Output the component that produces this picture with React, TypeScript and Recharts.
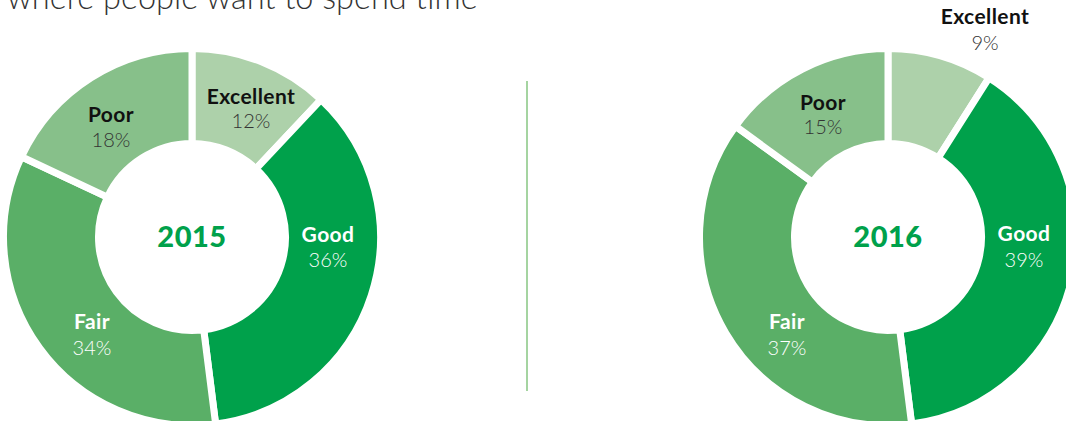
import React from "react";
import { PieChart, Pie, Cell } from "recharts";

const categories = ["Excellent", "Good", "Fair", "Poor"];
const values2015 = [12, 36, 34, 18];
const values2016 = [9, 39, 37, 15];
const years = ["2015", "2016"];
const title = "where people want to spend time";

const COLORS = ["#add1aa", "#00a14b", "#5aaf67", "#87c08a"];
const NAME_FILL = ["#111111", "#ffffff", "#ffffff", "#111111"];
const PCT_FILL = ["#333333", "#ffffff", "#ffffff", "#333333"];
const FONT = "Lato, 'Open Sans', sans-serif";

// label placement offsets relative to each donut's centre (style config)
const LABEL_OFFSETS = [
  [
    { dx: 59, ny: -133, py: -109 },
    { dx: 136, ny: 5, py: 30 },
    { dx: -100, ny: 92, py: 118 },
    { dx: -81, ny: -115, py: -90 },
  ],
  [
    { dx: 97, ny: -213, py: -187 },
    { dx: 136, ny: 4, py: 30 },
    { dx: -101, ny: 92, py: 118 },
    { dx: -65, ny: -127, py: -103 },
  ],
];

const toRows = (vals: number[]) => categories.map((name, i) => ({ name, value: vals[i] }));
const data2015 = toRows(values2015);
const data2016 = toRows(values2016);

const makeLabel = (chartIdx: number) => (props: any) => {
  const { cx, cy, index, name, value } = props;
  const o = LABEL_OFFSETS[chartIdx][index];
  return (
    <g key={`lbl-${chartIdx}-${index}`}>
      {index === 0 && (
        <text
          x={cx}
          y={cy + 10}
          textAnchor="middle"
          fontFamily={FONT}
          fontWeight={900}
          fontSize={29}
          letterSpacing={0.5}
          fill="#00a14b"
        >
          {years[chartIdx]}
        </text>
      )}
      <text
        x={cx + o.dx}
        y={cy + o.ny}
        textAnchor="middle"
        fontFamily={FONT}
        fontWeight={700}
        fontSize={21}
        letterSpacing={0.4}
        fill={NAME_FILL[index]}
      >
        {name}
      </text>
      <text
        x={cx + o.dx}
        y={cy + o.py}
        textAnchor="middle"
        fontFamily={FONT}
        fontWeight={300}
        fontSize={20}
        fill={PCT_FILL[index]}
      >
        {`${value}%`}
      </text>
    </g>
  );
};

export default function App() {
  return (
    <div style={{ position: "absolute", left: 0, top: 0, width: 1066, height: 421, overflow: "hidden", background: "#fff" }}>
      <div
        style={{
          position: "absolute",
          left: 7,
          top: -22,
          fontFamily: FONT,
          fontWeight: 300,
          fontSize: 32.5,
          color: "#333",
          whiteSpace: "nowrap",
          lineHeight: "38px",
        }}
      >
        {title}
      </div>
      <div style={{ position: "absolute", left: 526, top: 81, width: 2, height: 310, background: "#a5d4a1" }} />
      <div style={{ position: "absolute", left: 0, top: 0 }}>
        <PieChart width={1066} height={421} margin={{ top: 0, right: 0, bottom: 0, left: 0 }}>
          <Pie
            data={data2015}
            dataKey="value"
            nameKey="name"
            cx={192}
            cy={237}
            innerRadius={93.5}
            outerRadius={188.5}
            startAngle={90}
            endAngle={-270}
            stroke="#ffffff"
            strokeWidth={7}
            isAnimationActive={false}
            labelLine={false}
            label={makeLabel(0)}
          >
            {data2015.map((d, i) => (
              <Cell key={d.name} fill={COLORS[i]} />
            ))}
          </Pie>
          <Pie
            data={data2016}
            dataKey="value"
            nameKey="name"
            cx={888}
            cy={237}
            innerRadius={93.5}
            outerRadius={188.5}
            startAngle={90}
            endAngle={-270}
            stroke="#ffffff"
            strokeWidth={7}
            isAnimationActive={false}
            labelLine={false}
            label={makeLabel(1)}
          >
            {data2016.map((d, i) => (
              <Cell key={d.name} fill={COLORS[i]} />
            ))}
          </Pie>
        </PieChart>
      </div>
    </div>
  );
}
